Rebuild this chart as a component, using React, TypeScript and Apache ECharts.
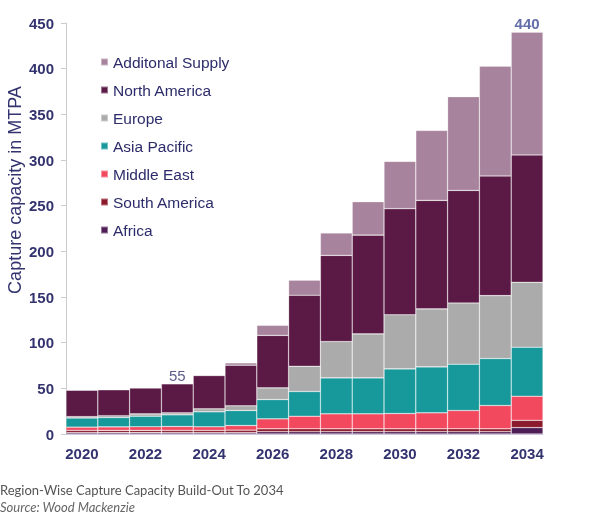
import { useEffect, useRef } from 'react'
import * as echarts from 'echarts'

const years = ['2020', '2021', '2022', '2023', '2024', '2025', '2026', '2027', '2028', '2029', '2030', '2031', '2032', '2033', '2034']

// stacked from the bottom up
const africa = [1.5, 1.5, 1.5, 1.5, 1.5, 1.5, 2.5, 2.5, 2.5, 2.5, 2.5, 2.5, 2.5, 2.5, 7]
const southAmerica = [2.5, 2.5, 2.5, 2.5, 2.5, 2.7, 3.2, 3.2, 3.2, 3.2, 3.2, 3.2, 3.2, 3.2, 8]
const middleEast = [3.5, 3.8, 3.9, 4.2, 3.9, 5.1, 10.9, 13.8, 16.4, 16.4, 16.7, 17.5, 20, 25.5, 26.4]
const asiaPacific = [10, 10.2, 11.6, 12.8, 16.4, 16.4, 21.1, 27, 39.4, 39.4, 48.9, 50.3, 50.7, 51.4, 53.6]
const europe = [1.5, 2, 2.5, 2.2, 3.3, 5.2, 12.8, 27.7, 39.7, 48.1, 59.2, 63.5, 67.1, 68.9, 71.1]
const northAmerica = [29, 28.5, 28.5, 31.8, 36.4, 44.4, 57.5, 77.7, 94.4, 108.2, 116.2, 118.8, 123.2, 131, 139.4]
const additionalSupply = [0, 0, 0, 0, 0, 2.6, 11, 16.4, 24.5, 36.5, 51.8, 76.6, 102.6, 120.3, 134.5]

// totals printed above two bars
const totalLabels = [null, null, null, 55, null, null, null, null, null, null, null, null, null, null, 440]

const legendOrder = ['Additonal Supply', 'North America', 'Europe', 'Asia Pacific', 'Middle East', 'South America', 'Africa']

const navy = '#33336f'
const font = 'Arial, Liberation Sans, sans-serif'

export default function App() {
  const chartRef = useRef<HTMLDivElement>(null)

  useEffect(() => {
    if (!chartRef.current) return
    const chart = echarts.init(chartRef.current, null, { renderer: 'svg' })

    const bar = (name: string, data: number[], color: string) => ({
      name,
      type: 'bar',
      stack: 'total',
      data,
      barCategoryGap: '0%',
      itemStyle: { color, borderColor: 'rgba(255,255,255,0.4)', borderWidth: 0.6 }
    })

    const option = {
      animation: false,
      textStyle: { fontFamily: font },
      legend: {
        data: legendOrder,
        orient: 'vertical',
        left: 100,
        top: 54,
        padding: 0,
        icon: 'rect',
        itemWidth: 7,
        itemHeight: 7,
        itemGap: 12,
        selectedMode: false,
        textStyle: { fontFamily: font, fontSize: 15.5, color: '#2c2c6a', lineHeight: 16 }
      },
      grid: { left: 66, right: 48, top: 23, bottom: 88 },
      xAxis: {
        type: 'category',
        data: years,
        axisLine: { lineStyle: { color: '#cdc6dc', width: 1 } },
        axisTick: { show: false },
        axisLabel: { interval: 1, fontFamily: font, fontSize: 15, fontWeight: 'bold', color: navy, margin: 12 }
      },
      yAxis: {
        type: 'value',
        min: 0,
        max: 450,
        interval: 50,
        splitLine: { show: false },
        axisLine: { show: true, lineStyle: { color: '#cccccc' } },
        axisTick: { show: true, length: 5, lineStyle: { color: '#cccccc' } },
        axisLabel: { fontFamily: font, fontSize: 15, fontWeight: 'bold', color: navy, margin: 12 }
      },
      graphic: [
        {
          type: 'text',
          x: 15,
          y: 190,
          rotation: Math.PI / 2,
          style: {
            text: 'Capture capacity in MTPA',
            fontSize: 18,
            fill: navy,
            align: 'center',
            verticalAlign: 'middle',
            fontFamily: font
          }
        },
        {
          type: 'text',
          left: 0,
          top: 483,
          style: {
            text: 'Region-Wise Capture Capacity Build-Out To 2034',
            fontSize: 13,
            fill: '#555555',
            fontFamily: 'Lato, sans-serif'
          }
        },
        {
          type: 'text',
          left: 0,
          top: 500,
          style: {
            text: 'Source: Wood Mackenzie',
            fontSize: 13,
            fontStyle: 'italic',
            fill: '#666666',
            fontFamily: 'Lato, sans-serif'
          }
        }
      ],
      series: [
        bar('Africa', africa, '#4e1d55'),
        bar('South America', southAmerica, '#8a1a2c'),
        bar('Middle East', middleEast, '#f2495f'),
        bar('Asia Pacific', asiaPacific, '#17999b'),
        bar('Europe', europe, '#ababab'),
        bar('North America', northAmerica, '#5b1a45'),
        bar('Additonal Supply', additionalSupply, '#a8839d'),
        {
          name: 'Total',
          type: 'scatter',
          symbolSize: 0,
          silent: true,
          data: totalLabels.map((v, i) =>
            v === null
              ? null
              : {
                  value: v,
                  label: {
                    show: true,
                    position: 'top',
                    distance: 1,
                    fontFamily: font,
                    fontSize: 15,
                    fontWeight: i === 14 ? 'bold' : 'normal',
                    color: i === 14 ? '#3b4893' : navy,
                    formatter: String(v)
                  }
                }
          )
        }
      ]
    }

    chart.setOption(option)
    return () => chart.dispose()
  }, [])

  return <div ref={chartRef} style={{ position: 'fixed', left: 0, top: 0, width: '591px', height: '522px' }} />
}
